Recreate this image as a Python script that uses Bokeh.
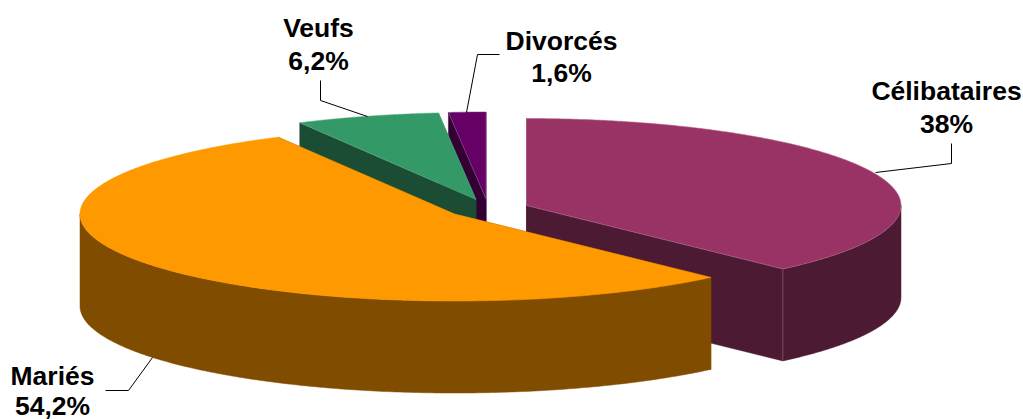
import numpy as np
from bokeh.plotting import figure
from bokeh.models import Range1d
from bokeh.core.properties import value
from bokeh.embed import file_html
from bokeh.resources import INLINE

# data
categories = ["Célibataires", "Mariés", "Veufs", "Divorcés"]
shares = [38.0, 54.2, 6.2, 1.6]
share_labels = ["38%", "54,2%", "6,2%", "1,6%"]

# style
top_colors = ["#993366", "#FF9900", "#339966", "#660066"]
side_colors = ["#4D1A33", "#804D00", "#1A4D33", "#330033"]
edge_colors = ["#B4668C", "#FF9900", "#5CAD85", "#8A4D8A"]

# layout (screen pixels)
apex_x = [526.0, 454.0, 475.5, 485.5]
apex_y = [205.0, 213.5, 199.0, 198.5]
RX, RY, DEPTH = 374.5, 87.0, 92.0
draw_order = [3, 2, 0, 1]
label_x = [946, 52, 318, 561]
label_y1 = [90, 375, 27, 40]
label_y2 = [123, 405, 60, 72]
leader_x = [[951, 951, 875], [105, 128, 152], [320, 320, 367], [499, 477, 466]]
leader_y = [[143, 163, 172], [390, 390, 357], [80, 100, 116], [54, 54, 112]]

W, H = 1023, 419
p = figure(width=W, height=H, x_range=Range1d(0, W), y_range=Range1d(H, 0),
           output_backend="svg", toolbar_location=None, min_border=0,
           outline_line_color=None, background_fill_color="white")
p.xaxis.visible = False
p.yaxis.visible = False
p.grid.visible = False

edges = np.concatenate([[0.0], np.cumsum(shares)]) / np.sum(shares) * 2 * np.pi


def rim(cx, cy, a):
    return cx + RX * np.sin(a), cy - RY * np.cos(a)


for i in draw_order:
    cx, cy = apex_x[i], apex_y[i]
    t1, t2 = edges[i], edges[i + 1]
    for t in (t2, t1):  # radial walls
        ox, oy = rim(cx, cy, t)
        p.patch([cx, ox, ox, cx], [cy, oy, oy + DEPTH, cy + DEPTH],
                fill_color=side_colors[i], line_color=side_colors[i], line_width=0.5)
    lo, hi = max(t1, np.pi / 2), min(t2, 3 * np.pi / 2)
    if hi > lo:  # front wall
        a = np.linspace(lo, hi, 200)
        xs, ys = rim(cx, cy, a)
        p.patch(np.r_[xs, xs[::-1]], np.r_[ys, ys[::-1] + DEPTH],
                fill_color=side_colors[i], line_color=side_colors[i], line_width=0.5)
        ox, oy = rim(cx, cy, t2)
        if t2 < 3 * np.pi / 2:  # corner where the walls meet
            p.line([ox, ox], [oy, oy + DEPTH], line_color=edge_colors[i], line_width=0.5)
    a = np.linspace(t1, t2, 300)
    xs, ys = rim(cx, cy, a)
    p.patch(np.r_[cx, xs], np.r_[cy, ys], fill_color=top_colors[i],
            line_color=edge_colors[i], line_width=0.6)

for i in range(len(categories)):
    p.line(leader_x[i], leader_y[i], line_color="black", line_width=1)

text_style = dict(text_font=value("Liberation Sans"), text_font_style="bold",
                  text_font_size="26.5px", text_align="center", text_baseline="middle",
                  text_color="black")
p.text(label_x, label_y1, text=categories, **text_style)
p.text(label_x, label_y2, text=share_labels, **text_style)

open("out.html", "w").write(file_html(p, INLINE))
